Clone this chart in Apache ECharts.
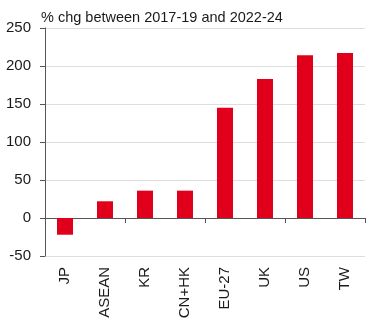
<!DOCTYPE html>
<html><head><meta charset="utf-8">
<script src="https://cdn.jsdelivr.net/npm/echarts@6/dist/echarts.min.js"></script>
<style>html,body{margin:0;padding:0;background:#fff}#c{width:376px;height:328px}</style>
</head><body><div id="c"></div>
<script>
const categories = ['JP','ASEAN','KR','CN+HK','EU-27','UK','US','TW'];
const values = [-22, 22, 36, 36, 145, 183, 214, 217];
const yTicks = [-50, 0, 50, 100, 150, 200, 250];
const titleText = '% chg between 2017-19 and 2022-24';

const chart = echarts.init(document.getElementById('c'), null, {renderer:'canvas'});
const font = 'Liberation Sans, Arial, sans-serif';
chart.setOption({
  animation:false,
  title:{text:titleText,left:36,top:5,textStyle:{fontFamily:font,fontSize:14.5,fontWeight:'normal',color:'#1a1a1a'}},
  grid:{left:45,right:11,top:28,bottom:72,containLabel:false},
  xAxis:[{
    type:'category',data:categories,position:'bottom',
    axisLine:{onZero:true,lineStyle:{color:'#555',width:1}},
    axisTick:{show:true,length:5,lineStyle:{color:'#555'}},
    axisLabel:{show:false},splitLine:{show:false}
  },{
    type:'category',data:categories,position:'bottom',offset:0,
    axisLine:{show:false},axisTick:{show:false},
    axisLabel:{rotate:90,margin:11,fontFamily:font,fontSize:15,color:'#1a1a1a'}
  }],
  yAxis:{
    type:'value',min:yTicks[0],max:yTicks[yTicks.length-1],interval:50,
    axisLine:{show:true,lineStyle:{color:'#555'}},
    axisTick:{show:true,length:5,lineStyle:{color:'#555'}},
    axisLabel:{margin:14,fontFamily:font,fontSize:15,color:'#1a1a1a'},
    splitLine:{show:true,lineStyle:{color:'#dedede',width:1}}
  },
  series:[{type:'bar',data:values,xAxisIndex:0,barWidth:16,itemStyle:{color:'#E0001B'}}]
});
</script></body></html>
